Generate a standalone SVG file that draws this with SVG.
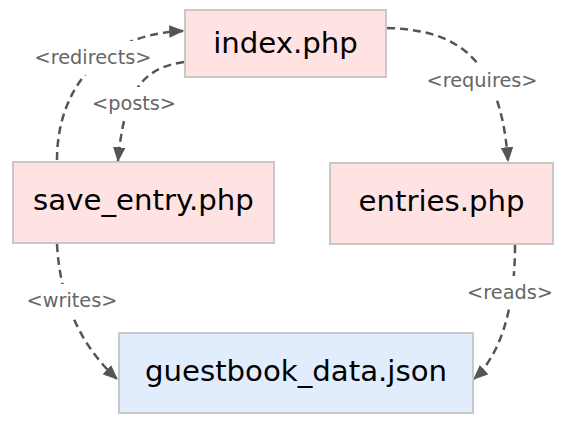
<svg xmlns="http://www.w3.org/2000/svg" width="576" height="426" viewBox="0 0 576 426">
<style>
.node rect{stroke:#c8c8c8;stroke-width:2}
.php rect{fill:#ffe3e3}
.data rect{fill:#e1edfd}
.node text{font-family:"DejaVu Sans",sans-serif;font-size:29.2px;fill:#000;text-anchor:middle}
.edge path{fill:none;stroke:#555;stroke-width:2.5;stroke-dasharray:8,5}
.lbl rect{fill:#fff}
.lbl text{font-family:"DejaVu Sans",sans-serif;font-size:19.3px;fill:#666;text-anchor:middle}
</style>
<defs>
<marker id="ah" viewBox="0 0 12 10" refX="11" refY="5" markerWidth="6" markerHeight="5" markerUnits="strokeWidth" orient="auto">
<path d="M0,0 L12,5 L0,10 z" fill="#555"/>
</marker>
</defs>
<rect width="576" height="426" fill="#fff"/>
<g id="edges">
<g class="edge"><path d="M57,160 C57,90 100,34 183,31" marker-end="url(#ah)"/></g>
<g class="lbl"><rect x="33" y="41" width="122" height="34"/><text x="93" y="63.5">&lt;redirects&gt;</text></g>
<g class="edge"><path d="M184,62 C140,68 124,95 118,161" marker-end="url(#ah)"/></g>
<g class="lbl"><rect x="90" y="87" width="88" height="33"/><text x="134" y="109.5">&lt;posts&gt;</text></g>
<g class="edge"><path d="M387,28 C450,30 500,50 508,161" marker-end="url(#ah)"/></g>
<g class="lbl"><rect x="424" y="65" width="116" height="34"/><text x="482" y="86.5">&lt;requires&gt;</text></g>
<g class="edge"><path d="M57,244 C60,300 80,345 117,379" marker-end="url(#ah)"/></g>
<g class="lbl"><rect x="25" y="284" width="95" height="34"/><text x="72" y="306.5">&lt;writes&gt;</text></g>
<g class="edge"><path d="M515,245 C515,310 500,355 474,379" marker-end="url(#ah)"/></g>
<g class="lbl"><rect x="465" y="276" width="90" height="33"/><text x="510" y="298.5">&lt;reads&gt;</text></g>
</g>
<g id="index" class="node php"><rect x="185" y="10" width="201" height="67"/><text x="285.5" y="53">index.php</text></g>
<g id="save_entry" class="node php"><rect x="13" y="162" width="261" height="81"/><text x="143.5" y="210">save_entry.php</text></g>
<g id="entries" class="node php"><rect x="330" y="163" width="223" height="81"/><text x="441.5" y="211">entries.php</text></g>
<g id="guestbook" class="node data"><rect x="119" y="333" width="354" height="80"/><text x="296" y="381">guestbook_data.json</text></g>
</svg>
